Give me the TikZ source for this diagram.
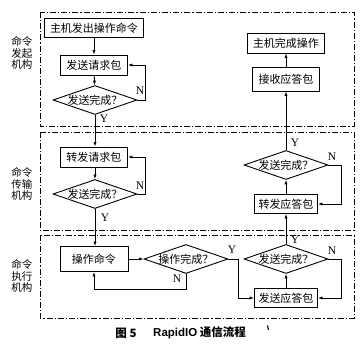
\documentclass[tikz,border=0pt]{standalone}
\usepackage{fontspec}
\setmainfont{Liberation Serif}
\newfontfamily\cjk{Noto Sans CJK SC}
\newfontfamily\capsans{Liberation Sans}
\usetikzlibrary{shapes.geometric,arrows.meta}
\begin{document}
\begin{tikzpicture}[x=1pt,y=-1pt,
  proc/.style={draw,line width=0.9pt,inner sep=0pt,font=\cjk\fontsize{11}{13}\selectfont},
  dec/.style={draw,diamond,line width=0.9pt,inner xsep=-12pt,inner ysep=0pt,aspect=2.86,minimum width=84pt,minimum height=29pt,font=\cjk\fontsize{11}{13}\selectfont},
  frame/.style={line width=0.9pt,dash pattern=on 6pt off 2pt on 1.2pt off 2pt},
  conn/.style={line width=0.8pt,-{Latex[length=4.5pt,width=3.2pt]}},
  yn/.style={font=\fontsize{11.5}{12}\selectfont,inner sep=0pt},
  side/.style={align=center,font=\cjk\fontsize{10.5}{11.5}\selectfont,inner sep=0pt}]
\useasboundingbox (0,0) rectangle (360,348);
% frames
\draw[frame] (40,12) rectangle (354,126);
\draw[frame] (40,132) rectangle (354,230);
\draw[frame] (40,235) rectangle (354,318);
% side labels
\node[side] (s1) at (22,53) {命令\\发起\\机构};
\node[side] (s2) at (22,184) {命令\\传输\\机构};
\node[side] (s3) at (22,276) {命令\\执行\\机构};
% nodes
\node[proc,minimum width=99pt,minimum height=19pt] (n1) at (94,28) {主机发出操作命令};
\node[proc,minimum width=67pt,minimum height=20pt] (n2) at (94,65) {发送请求包};
\node[dec] (d1) at (95,100) {发送完成？};
\node[proc,minimum width=67pt,minimum height=20pt] (n3) at (94,157) {转发请求包};
\node[dec] (d2) at (95,194) {发送完成？};
\node[proc,minimum width=68pt,minimum height=25pt] (n4) at (94,259) {操作命令};
\node[dec] (d3) at (186,259) {操作完成？};
\node[proc,minimum width=63pt,minimum height=19pt] (n5) at (286,298) {发送应答包};
\node[dec] (d4) at (286,259) {发送完成？};
\node[proc,minimum width=63pt,minimum height=19pt] (n6) at (286,204) {转发应答包};
\node[dec] (d5) at (286,165) {发送完成？};
\node[proc,minimum width=67pt,minimum height=24pt] (n7) at (286,79) {接收应答包};
\node[proc,minimum width=77pt,minimum height=20pt] (n8) at (286,43) {主机完成操作};
% connectors
\draw[conn] (n1) -- (n2);
\draw[conn] (n2) -- (d1);
\draw[conn] (d1.south) -- (d1.south |- n3.north);
\draw[conn] (d1.east) -- (145,100) |- (n2.east);
\draw[conn] (n3.south -| d2.north) -- (d2.north);
\draw[conn] (d2.east) -- (145,194) |- (n3.east);
\draw[conn] (d2.south) -- (d2.south |- n4.north);
\draw[conn] (n4.east) -- (d3.west);
\draw[conn] (d3.south) -- (186,289) -| (n4.south);
\draw[conn] (d3.east) -- (238,259) |- (n5.west);
\draw[conn] (n5.north) -- (d4.south);
\draw[conn] (d4.east) -- (341,259) |- (n5.east);
\draw[conn] (d4.north) -- (n6.south);
\draw[conn] (n6.north) -- (d5.south);
\draw[conn] (d5.east) -- (341,165) |- (n6.east);
\draw[conn] (d5.north) -- (n7.south);
\draw[conn] (n7.north) -- (n8.south);
% Y/N labels
\node[yn] (l1) at (140,91) {N};
\node[yn] (l2) at (104,119) {Y};
\node[yn] (l3) at (140,186) {N};
\node[yn] (l4) at (105,218) {Y};
\node[yn] (l5) at (177,279) {N};
\node[yn] (l6) at (232,250) {Y};
\node[yn] (l7) at (332,251) {N};
\node[yn] (l8) at (295,240) {Y};
\node[yn] (l9) at (332,157) {N};
\node[yn] (l10) at (295,143) {Y};
% caption
\node[inner sep=0pt,font=\cjk\bfseries\fontsize{11.5}{13}\selectfont] (c1) at (126,333) {图 5};
\node[inner sep=0pt,anchor=west,font=\cjk\bfseries\fontsize{11.5}{13}\selectfont] (c2) at (153,333) {{\capsans RapidIO} 通信流程};
\draw[line width=1.1pt] (267.5,325.5) -- (268.5,330);
\end{tikzpicture}
\end{document}
